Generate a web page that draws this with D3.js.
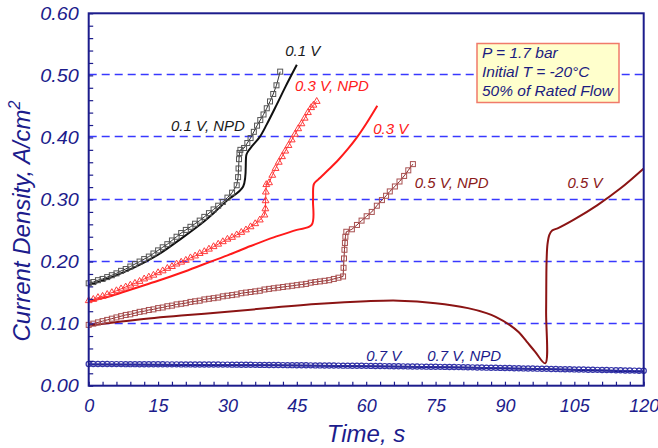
<!DOCTYPE html>
<html>
<head>
<meta charset="utf-8">
<script src="https://cdn.jsdelivr.net/npm/d3@7"></script>
<style>
  body { margin: 0; background: #fff; }
  svg { display: block; font-family: "Liberation Sans", Arial, sans-serif; }
</style>
</head>
<body>
<svg id="chart" width="658" height="448"></svg>
<script>
// Data: [time s, current density A/cm2]
var v01 = [[0,.162],[5,.175],[10,.191],[15,.211],[20,.237],[25,.265],[27,.278],[30,.299],
  [33.4,.321],[34.1,.372],[34.5,.378],[35.3,.386],[37,.401],[38.5,.421],[40.6,.452],[42.5,.481],[45,.517]];

var npd01 = [[0,.165],[1,.167],[2,.170],[3,.172],[4,.175],[5,.178],[6,.181],[7,.185],[8,.188],[9,.192],
  [10,.196],[11,.200],[12,.204],[13,.208],[14,.213],[15,.218],[16,.223],[17,.228],[18,.234],[19,.240],
  [20,.246],[21,.251],[22,.256],[23,.261],[24,.266],[25,.272],[26,.278],[27,.284],[28,.290],[29,.296],
  [30,.303],[31,.311],[32,.323],[32.3,.336],[32.4,.350],[32.5,.365],[32.6,.375],[32.8,.380],[33.6,.383],
  [34.3,.391],[35.0,.399],[35.7,.409],[36.4,.419],[37.1,.428],[37.8,.437],[38.5,.447],[39.2,.458],
  [39.9,.470],[40.6,.484],[41.4,.506]];

var v03 = [[0,.136],[5,.145],[10,.157],[15,.169],[20,.182],[25,.196],[30,.210],[35,.225],[40,.239],
  [45,.251],[48.2,.259],[48.5,.300],[48.7,.325],[49.6,.332],[52,.349],[54,.364],[56,.381],[58,.400],
  [60,.422],[62.4,.451]];

var npd03 = [[0,.137],[1,.139],[2,.142],[3,.144],[4,.147],[5,.150],[6,.153],[7,.156],[8,.159],[9,.162],
  [10,.165],[11,.168],[12,.172],[13,.175],[14,.178],[15,.182],[16,.185],[17,.189],[18,.192],[19,.196],
  [20,.199],[21,.202],[22,.206],[23,.209],[24,.213],[25,.216],[26,.220],[27,.224],[28,.228],[29,.232],
  [30,.236],[31,.239],[32,.243],[33,.247],[34,.251],[35,.256],[36,.261],[37,.267],[38,.275],[38.2,.285],
  [38.25,.298],[38.3,.312],[38.4,.324],[39.0,.327],[39.7,.339],[40.4,.350],[41.1,.360],[41.8,.369],
  [42.5,.378],[43.2,.387],[43.9,.396],[44.6,.405],[45.3,.414],[46.0,.422],[46.7,.431],[47.4,.440],
  [48.1,.448],[48.6,.452],[49.3,.458]];

var v05 = [[0,.097],[10,.106],[20,.113],[30,.119],[40,.126],[50,.132],[60,.136],[67,.137],[75,.133],
  [82,.125],[86,.117],[88,.111],[91,.098],[93,.086],[94.7,.071],[96.5,.055],[98.7,.036],[98.9,.120],
  [99.0,.200],[99.2,.228],[99.6,.243],[100.2,.250],[101.5,.254],[105,.268],[110,.291],[115,.318],[120,.350]];

var npd05 = [[0,.098],[1,.100],[2,.102],[3,.104],[4,.106],[5,.108],[6,.110],[7,.112],[8,.114],[9,.115],
  [10,.117],[11,.119],[12,.120],[13,.122],[14,.123],[15,.125],[16,.126],[17,.128],[18,.129],[19,.131],
  [20,.132],[21,.133],[22,.135],[23,.136],[24,.137],[25,.139],[26,.140],[27,.141],[28,.142],[29,.144],
  [30,.145],[31,.146],[32,.147],[33,.149],[34,.150],[35,.151],[36,.152],[37,.153],[38,.155],[39,.156],
  [40,.157],[41,.158],[42,.159],[43,.160],[44,.161],[45,.162],[46,.163],[47,.164],[48,.166],[49,.167],
  [50,.168],[51,.169],[52,.170],[53,.172],[54,.174],[55,.176],[55.1,.190],[55.2,.205],[55.3,.219],
  [55.4,.230],[55.5,.240],[55.7,.248],[56.9,.252],[58.0,.259],[59.0,.266],[60.1,.273],[61.2,.280],
  [62.3,.290],[63.4,.299],[64.3,.306],[65.1,.313],[66.2,.321],[67.2,.329],[68.2,.338],[69.1,.347],[70.1,.357]];

var v07 = [[0,.0340],[20,.0335],[40,.0328],[60,.0315],[80,.0295],[100,.0265],[120,.0225]];

// 0.7 V NPD, sampled once a second from t = 0
var npd07 = [
  .0350,.0350,.0349,.0349,.0349,.0348,.0348,.0348,.0347,.0347,
  .0347,.0346,.0346,.0346,.0345,.0345,.0345,.0344,.0344,.0344,
  .0343,.0343,.0343,.0342,.0342,.0342,.0341,.0341,.0341,.0340,
  .0340,.0339,.0339,.0338,.0337,.0337,.0336,.0335,.0335,.0334,
  .0333,.0333,.0332,.0331,.0331,.0330,.0329,.0329,.0328,.0327,
  .0327,.0326,.0325,.0325,.0324,.0323,.0323,.0322,.0321,.0321,
  .0320,.0319,.0318,.0317,.0316,.0315,.0314,.0313,.0312,.0311,
  .0310,.0309,.0308,.0307,.0306,.0305,.0304,.0303,.0302,.0301,
  .0300,.0299,.0297,.0296,.0294,.0293,.0291,.0290,.0288,.0287,
  .0285,.0284,.0282,.0281,.0279,.0278,.0276,.0275,.0273,.0272,
  .0270,.0269,.0267,.0266,.0264,.0263,.0261,.0260,.0258,.0257,
  .0255,.0254,.0252,.0251,.0249,.0248,.0246,.0245,.0243,.0242,
  .0240];

var xTicks = [0, 15, 30, 45, 60, 75, 90, 105, 120];
var yTicks = [0, 0.1, 0.2, 0.3, 0.4, 0.5, 0.6];
var gridValues = [0.1, 0.2, 0.3, 0.4, 0.5];
var infoLines = ['P = 1.7 bar', 'Initial T = -20\u00B0C', '50% of Rated Flow'];

var curveLabels = [
  {text: '0.1 V', t: 42.5, v: 0.532, color: '#1a1a1a'},
  {text: '0.1 V, NPD', t: 17.8, v: 0.410, color: '#1a1a1a'},
  {text: '0.3 V, NPD', t: 44.6, v: 0.475, color: '#ff2020'},
  {text: '0.3 V', t: 61.5, v: 0.405, color: '#ff2020'},
  {text: '0.5 V, NPD', t: 70.5, v: 0.318, color: '#8b1a1a'},
  {text: '0.5 V', t: 103.5, v: 0.318, color: '#8b1a1a'},
  {text: '0.7 V', t: 60, v: 0.039, color: '#1c1c8c'},
  {text: '0.7 V, NPD', t: 73.2, v: 0.039, color: '#1c1c8c'}
];

var navy = '#1c1c8c';
var svg = d3.select('#chart');

var x = d3.scaleLinear().domain([0, 120]).range([88.7, 643.7]);
var y = d3.scaleLinear().domain([0, 0.6]).range([385.7, 13.3]);

// Dashed grid lines.
svg.append('g').selectAll('line')
    .data(gridValues)
  .enter().append('line')
    .attr('x1', x(0)).attr('x2', x(120))
    .attr('y1', function(d) { return Math.round(y(d)) - 0.5; })
    .attr('y2', function(d) { return Math.round(y(d)) - 0.5; })
    .style('stroke', '#3838ff')
    .style('stroke-width', 1.5)
    .style('stroke-dasharray', '8,5');

var line = d3.line()
    .x(function(d) { return x(d[0]); })
    .y(function(d) { return y(d[1]); });

var smooth = d3.line()
    .x(function(d) { return x(d[0]); })
    .y(function(d) { return y(d[1]); })
    .curve(d3.curveCatmullRom.alpha(0.5));

function drawLine(data, color, width, gen) {
  svg.append('path')
      .datum(data)
      .attr('d', gen || smooth)
      .style('fill', 'none')
      .style('stroke', color)
      .style('stroke-width', width);
}

function drawMarkers(data, shape, color) {
  var g = svg.append('g');
  if (shape === 'square') {
    g.selectAll('rect').data(data).enter().append('rect')
        .attr('x', function(d) { return x(d[0]) - 2.5; })
        .attr('y', function(d) { return y(d[1]) - 2.5; })
        .attr('width', 5).attr('height', 5)
        .style('fill', 'none').style('stroke', color).style('stroke-width', 1);
  } else if (shape === 'triangle') {
    var tri = d3.symbol().type(d3.symbolTriangle).size(20);
    g.selectAll('path').data(data).enter().append('path')
        .attr('d', tri)
        .attr('transform', function(d) { return 'translate(' + x(d[0]) + ',' + y(d[1]) + ')'; })
        .style('fill', 'none').style('stroke', color).style('stroke-width', 1);
  } else {
    g.selectAll('circle').data(data).enter().append('circle')
        .attr('cx', function(d) { return x(d[0]); })
        .attr('cy', function(d) { return y(d[1]); })
        .attr('r', 2.6)
        .style('fill', 'none').style('stroke', color).style('stroke-width', 1.2);
  }
}

// 0.7 V pair
var npd07Points = npd07.map(function(v, i) { return [i, v]; });
drawLine(v07, navy, 2);
drawLine(npd07Points, '#3030a0', 1, line);
drawMarkers(npd07Points, 'circle', '#3434a8');

// 0.5 V pair
drawLine(v05, '#8b1414', 2);
drawLine(npd05, '#8b2a2a', 1, line);
drawMarkers(npd05, 'square', '#a85050');

// 0.3 V pair
drawLine(v03, '#ff1a1a', 2);
drawLine(npd03, '#ff3030', 1, line);
drawMarkers(npd03, 'triangle', '#ff3a3a');

// 0.1 V pair
drawLine(v01, '#111', 2);
drawLine(npd01, '#333', 1, line);
drawMarkers(npd01, 'square', '#555');

// Curve labels
svg.append('g').selectAll('text')
    .data(curveLabels)
  .enter().append('text')
    .attr('x', function(d) { return x(d.t); })
    .attr('y', function(d) { return y(d.v); })
    .text(function(d) { return d.text; })
    .style('font-size', '15px')
    .style('font-style', 'italic')
    .style('fill', function(d) { return d.color; });

// Conditions box
var box = svg.append('g').attr('transform', 'translate(477,43.5)');
box.append('rect')
    .attr('width', 142).attr('height', 59)
    .style('fill', '#ffffcc')
    .style('stroke', '#f07a6a')
    .style('stroke-width', 1.5);
box.selectAll('text')
    .data(infoLines)
  .enter().append('text')
    .attr('x', 5)
    .attr('y', function(d, i) { return 14 + i * 19; })
    .text(function(d) { return d; })
    .style('font-size', '15.5px')
    .style('font-style', 'italic')
    .style('fill', '#1c1c80');

// Axes: minor ticks inside, labels on the major ones.
var xAxis = d3.axisBottom(x)
    .tickValues(d3.range(0, 41).map(function(i) { return i * 3; }))
    .tickSize(-4).tickSizeOuter(0).tickPadding(13.5)
    .tickFormat(function(d) { return xTicks.indexOf(d) >= 0 ? d : ''; });
var gx = svg.append('g').attr('transform', 'translate(0,' + y(0) + ')').call(xAxis);

var yAxis = d3.axisLeft(y)
    .tickValues(d3.range(0, 31).map(function(i) { return i * 0.02; }))
    .tickSize(-4.5).tickSizeOuter(0).tickPadding(9)
    .tickFormat(function(d) {
      var hit = yTicks.some(function(t) { return Math.abs(t - d) < 1e-6; });
      return hit ? d3.format('.2f')(d) : '';
    });
var gy = svg.append('g').attr('transform', 'translate(' + x(0) + ',0)').call(yAxis);

[gx, gy].forEach(function(g) {
  g.select('.domain').remove();
  g.selectAll('.tick line').style('stroke', navy).style('stroke-width', 1.2);
  g.selectAll('.tick text')
      .style('font-family', '"Liberation Sans", Arial, sans-serif')
      .style('font-size', '18px')
      .style('font-style', 'italic')
      .style('fill', navy);
});
gy.selectAll('.tick text').attr('transform', 'scale(1.1,1)');

// Plot frame
svg.append('rect')
    .attr('x', x(0)).attr('y', y(0.6))
    .attr('width', x(120) - x(0)).attr('height', y(0) - y(0.6))
    .style('fill', 'none')
    .style('stroke', navy)
    .style('stroke-width', 2);

// Axis titles
svg.append('text')
    .attr('x', 366).attr('y', 442)
    .attr('text-anchor', 'middle')
    .text('Time, s')
    .style('font-size', '24px')
    .style('font-style', 'italic')
    .style('fill', navy);

var yTitle = svg.append('text')
    .attr('transform', 'translate(30,221) rotate(-90)')
    .attr('text-anchor', 'middle')
    .style('font-size', '24px')
    .style('font-style', 'italic')
    .style('fill', navy);
yTitle.append('tspan').text('Current Density, A/cm');
yTitle.append('tspan').text('2').attr('dy', -10).style('font-size', '16px');
</script>
</body>
</html>
